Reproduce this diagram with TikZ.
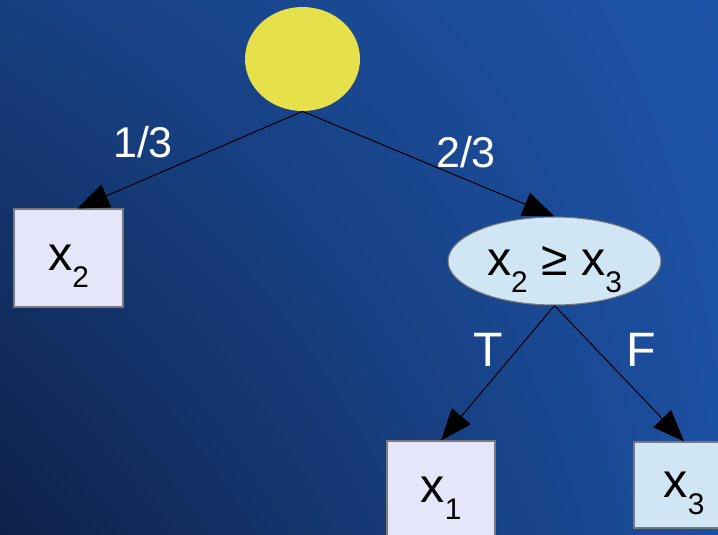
\documentclass[tikz,border=0pt]{standalone}
\usepackage{fontspec}
\setmainfont{Liberation Sans}
\usetikzlibrary{arrows.meta,shapes.geometric,shadings}
\definecolor{bgul}{HTML}{173F80}
\definecolor{bgur}{HTML}{1E54A8}
\definecolor{bgll}{HTML}{0E2148}
\definecolor{bglr}{HTML}{1C4FA0}
\definecolor{sunfill}{HTML}{E6E04A}
\definecolor{leaffill}{HTML}{E6E6FA}
\definecolor{testfill}{HTML}{D0E6F4}
\definecolor{rim}{HTML}{7A7A7A}
\newcommand{\xsub}[1]{\raisebox{-9.5pt}{\fontsize{17}{17}\selectfont #1}}
\tikzset{
  leaf/.style={draw=rim, line width=0.6pt, fill=leaffill, rectangle,
    font=\fontsize{27.5}{30}\selectfont, text depth=0pt},
  test/.style={draw=rim, line width=0.6pt, fill=testfill, ellipse,
    font=\fontsize{27.5}{30}\selectfont, text depth=0pt, inner sep=0pt},
  branch/.style={-{Triangle[length=18pt,width=14pt]}, line width=0.6pt, black},
  prob/.style={text=white, font=\fontsize{24.5}{28}\selectfont},
}

\begin{document}
\begin{tikzpicture}[x=0.02cm,y=-0.02cm]
  \clip (0,0) rectangle (718,535);
  \shade[upper left=bgul, upper right=bgur, lower left=bgll, lower right=bglr]
    (0,0) rectangle (718,535);
  \node[ellipse, fill=sunfill, minimum width=2.3cm, minimum height=2.08cm] (root) at (302.5,59) {};
  \node[leaf, minimum width=2.18cm, minimum height=1.96cm] (leftx) at (68.5,258) {x\xsub{2}};
  \node[test, minimum width=4.26cm, minimum height=1.76cm] (cmp) at (554.5,261) {x\xsub{2} ≥ x\xsub{3}};
  \node[leaf, minimum width=2.16cm, minimum height=1.96cm] (truex) at (441,490) {x\xsub{1}};
  \node[leaf, fill=testfill, minimum width=2.0cm, minimum height=1.72cm] (falsex) at (684,485) {x\xsub{3}};
  \draw[branch] (root.south) -- (leftx.80);
  \draw[branch] (root.south) -- (cmp.north);
  \draw[branch] (cmp.south) -- (truex.north);
  \draw[branch] (cmp.south) -- (falsex.north);
  \node[prob] (pleft) at (143,142) {1/3};
  \node[prob] (pright) at (466,152) {2/3};
  \node[prob, font=\fontsize{27.5}{30}\selectfont] (ptrue) at (488,350) {T};
  \node[prob, font=\fontsize{27.5}{30}\selectfont] (pfalse) at (641,350) {F};
\end{tikzpicture}
\end{document}
